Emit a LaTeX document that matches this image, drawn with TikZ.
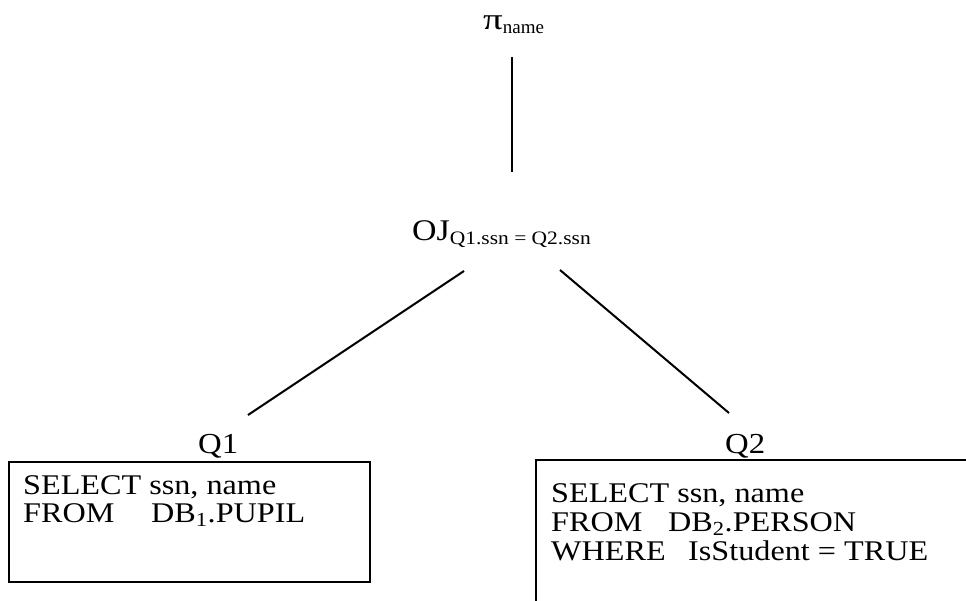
\documentclass[tikz,border=0pt]{standalone}
\usepackage{fontspec}
\setmainfont{Liberation Serif}
\newfontfamily\boxfont[FakeStretch=1.13]{Liberation Serif}
\begin{document}
\begin{tikzpicture}[x=1pt,y=-1pt,
  lbl/.style={inner sep=0pt, anchor=base west},
  txt/.style={inner sep=0pt, anchor=base west, text height=20pt, text depth=6pt, font=\boxfont\fontsize{28.5}{30}\selectfont},
  edge/.style={line width=2pt},
  qbox/.style={line width=2pt}]
\useasboundingbox (0,0) rectangle (966,600);
\clip (0,0) rectangle (966,600);
% root
\node[lbl, text height=17pt, text depth=5pt] (pi) at (483,29) {\fontsize{30}{32}\selectfont\scalebox{1.3}[1]{π}\raisebox{-4pt}{\fontsize{19}{20}\selectfont name}};
\node[lbl] (oj) at (412,240) {\boxfont\fontsize{30}{31}\selectfont OJ\raisebox{-4pt}{\fontsize{19}{21}\selectfont Q1.ssn = Q2.ssn}};
\coordinate (piB) at (512,57);
\coordinate (ojT) at (512,172);
\coordinate (ojL) at (464,271);
\coordinate (ojR) at (560,270);
\coordinate (q1T) at (248,415);
\coordinate (q2T) at (729,413);
\draw[edge] (piB) -- (ojT);
\draw[edge] (ojL) -- (q1T);
\draw[edge] (ojR) -- (q2T);
% Q1
\node[lbl] (q1) at (198,453) {\boxfont\fontsize{29}{30}\selectfont Q1};
\draw[qbox] (9,462) rectangle (370,582);
\node[txt] (q1a) at (23,494) {SELECT ssn, name};
\node[txt] (q1b) at (23,522) {\makebox[128pt][l]{FROM}DB\textsubscript{1}.PUPIL};
% Q2
\node[lbl] (q2) at (725,453) {\boxfont\fontsize{29}{30}\selectfont Q2};
\draw[qbox] (536,460) rectangle (1000,640);
\node[txt] (q2a) at (551,502) {SELECT ssn, name};
\node[txt] (q2b) at (551,531) {\makebox[117pt][l]{FROM}DB\textsubscript{2}.PERSON};
\node[txt] (q2c) at (551,560) {\makebox[137pt][l]{WHERE}IsStudent = TRUE};
\end{tikzpicture}
\end{document}
